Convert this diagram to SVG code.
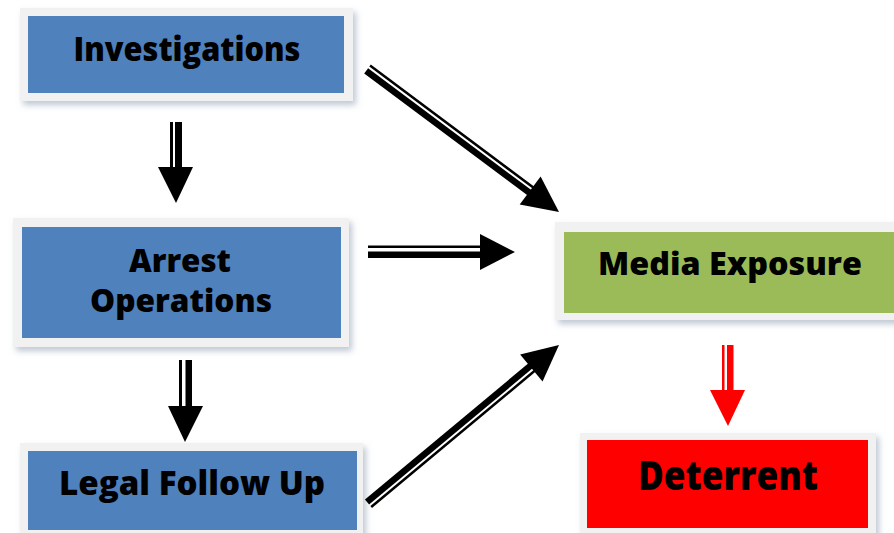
<svg xmlns="http://www.w3.org/2000/svg" width="894" height="533" viewBox="0 0 894 533">
<defs>
<filter id="sh" x="-10%" y="-20%" width="125%" height="150%">
<feDropShadow dx="3" dy="4" stdDeviation="3" flood-color="#8a9bb0" flood-opacity="0.55"/>
</filter>
</defs>
<style>
.frame{fill:#f1f1f1;filter:url(#sh)}
.blue{fill:#4f81bd}
.green{fill:#9bbb59}
.red{fill:#ff0000}
.lbl{font-family:"Open Sans",Lato,"Liberation Sans",sans-serif;font-weight:800;fill:#000;text-anchor:middle;lengthAdjust:spacingAndGlyphs}
.blk{fill:#000}
.rd{fill:#ff0000}
</style>
<rect width="894" height="533" fill="#fff"/>
<g id="investigations">
<rect class="frame" x="20" y="8" width="333" height="93"/>
<rect class="blue" x="28" y="16" width="316" height="77"/>
<text class="lbl" x="187" y="61" font-size="34" textLength="227" lengthAdjust="spacingAndGlyphs">Investigations</text>
</g>
<g id="arrest">
<rect class="frame" x="13" y="218" width="336" height="129"/>
<rect class="blue" x="22" y="227" width="319" height="111"/>
<text class="lbl" x="180" y="272" font-size="32" textLength="102" lengthAdjust="spacingAndGlyphs">Arrest</text>
<text class="lbl" x="181" y="312" font-size="32" textLength="182" lengthAdjust="spacingAndGlyphs">Operations</text>
</g>
<g id="legal">
<rect class="frame" x="20" y="443" width="343" height="100"/>
<rect class="blue" x="28" y="451" width="329" height="79"/>
<text class="lbl" x="192" y="495" font-size="34" textLength="266" lengthAdjust="spacingAndGlyphs">Legal Follow Up</text>
</g>
<g id="media">
<rect class="frame" x="555" y="222" width="350" height="98"/>
<rect class="green" x="564" y="232" width="340" height="81"/>
<text class="lbl" x="730" y="275" font-size="32" textLength="264" lengthAdjust="spacingAndGlyphs">Media Exposure</text>
</g>
<g id="deterrent">
<rect class="frame" x="580" y="433" width="296" height="110"/>
<rect class="red" x="587" y="440" width="281" height="88"/>
<text class="lbl" x="728" y="490" font-size="40" textLength="180" lengthAdjust="spacingAndGlyphs">Deterrent</text>
</g>
<g id="connectors">
<g id="a1">
<rect class="blk" x="170" y="122" width="3" height="46"/>
<rect class="blk" x="175" y="122" width="7" height="46"/>
<polygon class="blk" points="158,167 193,167 176,203"/>
</g>
<g id="a2">
<rect class="blk" x="179" y="360" width="3" height="47"/>
<rect class="blk" x="185.5" y="360" width="6.5" height="47"/>
<polygon class="blk" points="168,406 203,406 185,442"/>
</g>
<g id="a3">
<rect class="blk" x="368" y="245.5" width="113" height="2.5"/>
<rect class="blk" x="368" y="251.5" width="113" height="6.5"/>
<polygon class="blk" points="480,234 480,270 515,252"/>
</g>
<g id="a4" transform="translate(559,212) rotate(36.75)">
<rect class="blk" x="-239" y="-5.5" width="205" height="2.5"/>
<rect class="blk" x="-239" y="-1" width="205" height="6.5"/>
<polygon class="blk" points="0,0 -36,-17.5 -36,17.5"/>
</g>
<g id="a5" transform="translate(559,345) rotate(-39.8)">
<rect class="blk" x="-248" y="3" width="214" height="2.5"/>
<rect class="blk" x="-248" y="-5.5" width="214" height="6.5"/>
<polygon class="blk" points="0,0 -36,-17.5 -36,17.5"/>
</g>
<g id="a6">
<rect class="rd" x="722" y="345" width="2.5" height="46"/>
<rect class="rd" x="727" y="345" width="6.5" height="46"/>
<polygon class="rd" points="710,390 745,390 728,426"/>
</g>
</g>
</svg>
